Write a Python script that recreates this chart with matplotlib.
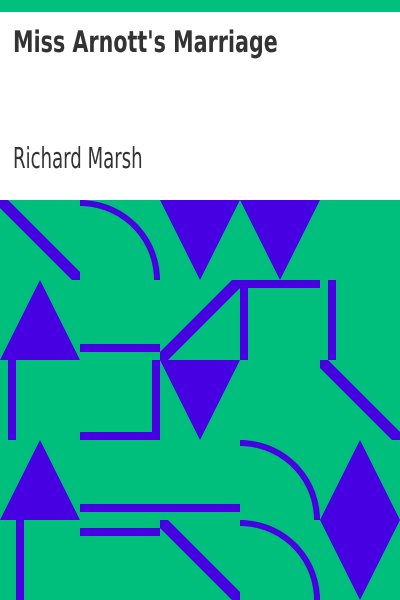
import matplotlib
matplotlib.use("Agg")
import matplotlib.pyplot as plt
from matplotlib.patches import Polygon, Rectangle, Wedge
from matplotlib.patheffects import AbstractPathEffect
from matplotlib.transforms import Affine2D

# ---- data ----
title = "Miss Arnott's Marriage"
author = "Richard Marsh"
GREEN = "#00BE7B"
PURPLE = "#4600E2"
TEXT = "#333333"

cell = 80
grid_top = 200
# tile codes per cell, rows top->bottom, cols left->right
tiles = [
    [["diag_dr"], ["arc"], ["tri_down"], ["tri_down"], []],
    [["tri_up"], ["hbar64"], ["diag_ur"], ["hbar0", "vbar0"], ["vbar8"]],
    [["vbar8"], ["vbar72", "hbar72"], ["tri_down"], [], ["diag_dr"]],
    [["tri_up"], ["hbar64"], ["hbar64"], ["arc"], ["tri_up"]],
    [["vbar16"], ["hbar8"], ["diag_dr"], ["arc"], ["tri_down"]],
]
bar_w = 8
diag_half = 8
arc_w = 6

# text layout (left x, baseline y, right edge target)
title_pos = (13, 52, 278)
author_pos = (13, 168, 143)


class HSqueeze(AbstractPathEffect):
    """Compress glyph outlines horizontally around the text origin."""
    def __init__(self, sx):
        super().__init__()
        self.sx = sx

    def draw_path(self, renderer, gc, tpath, affine, rgbFace=None):
        renderer.draw_path(gc, tpath, Affine2D().scale(self.sx, 1.0) + affine, rgbFace)


fig = plt.figure(figsize=(4, 6), dpi=100)
ax = fig.add_axes([0, 0, 1, 1])
ax.set_xlim(0, 400)
ax.set_ylim(600, 0)
ax.axis("off")
fig.patch.set_facecolor("white")

ax.add_patch(Rectangle((0, 0), 400, 12, color=GREEN, lw=0))
ax.add_patch(Rectangle((0, grid_top), 400, 400, color=GREEN, lw=0))


def draw(code, x0, y0):
    c = cell
    kw = dict(facecolor=PURPLE, edgecolor="none", lw=0)
    if code == "diag_dr":
        d = diag_half
        pts = [(0, 0), (d, 0), (c, c - d), (c, c), (c - d, c), (0, d)]
        ax.add_patch(Polygon([(x0 + u, y0 + v) for u, v in pts], **kw))
    elif code == "diag_ur":
        d = diag_half
        pts = [(0, c), (0, c - d), (c - d, 0), (c, 0), (c, d), (d, c)]
        ax.add_patch(Polygon([(x0 + u, y0 + v) for u, v in pts], **kw))
    elif code == "tri_down":
        pts = [(0, 0), (c, 0), (c / 2, c)]
        ax.add_patch(Polygon([(x0 + u, y0 + v) for u, v in pts], **kw))
    elif code == "tri_up":
        pts = [(0, c), (c, c), (c / 2, 0)]
        ax.add_patch(Polygon([(x0 + u, y0 + v) for u, v in pts], **kw))
    elif code == "arc":
        ax.add_patch(Wedge((x0, y0 + c), c, 270, 360, width=arc_w, **kw))
    elif code.startswith("hbar"):
        off = int(code[4:])
        ax.add_patch(Rectangle((x0, y0 + off), c, bar_w, **kw))
    elif code.startswith("vbar"):
        off = int(code[4:])
        ax.add_patch(Rectangle((x0 + off, y0), bar_w, c, **kw))


for r, row in enumerate(tiles):
    for ci, codes in enumerate(row):
        for code in codes:
            draw(code, ci * cell, grid_top + r * cell)

t1 = ax.text(title_pos[0], title_pos[1], title, fontsize=21.4, fontweight="bold",
             family="DejaVu Sans", color=TEXT, va="baseline", ha="left")
t2 = ax.text(author_pos[0], author_pos[1], author, fontsize=20.8,
             family="DejaVu Sans", color=TEXT, va="baseline", ha="left")

fig.canvas.draw()
rend = fig.canvas.get_renderer()
for t, pos in ((t1, title_pos), (t2, author_pos)):
    bb = t.get_window_extent(rend)
    sx = (pos[2] - pos[0]) / bb.width
    t.set_path_effects([HSqueeze(sx)])

fig.savefig("out.png", dpi=100, facecolor="white")
